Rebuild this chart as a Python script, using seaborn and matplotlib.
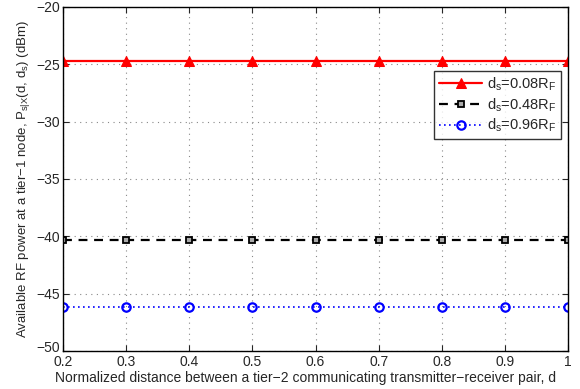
import matplotlib
matplotlib.use("Agg")
import matplotlib.pyplot as plt
import matplotlib.transforms as mtransforms
import seaborn as sns
import pandas as pd

# data
d = [0.2, 0.3, 0.4, 0.5, 0.6, 0.7, 0.8, 0.9, 1.0]
p_008 = [-24.7] * 9
p_048 = [-40.3] * 9
p_096 = [-46.2] * 9

sns.set_style("ticks")
plt.rcParams['font.family'] = ['Liberation Sans', 'DejaVu Sans']
plt.rcParams['mathtext.fontset'] = 'custom'
plt.rcParams['mathtext.rm'] = 'Liberation Sans'

fig = plt.figure(figsize=(5.8, 3.89), dpi=100)
ax = fig.add_axes([63/580, 1 - 351/389, (568-63)/580, (351-7)/389])

df = pd.DataFrame({'d': d, 'a': p_008, 'b': p_048, 'c': p_096})
sns.lineplot(data=df, x='d', y='a', ax=ax, color='red', lw=1.6, marker='^',
             markersize=6.5, markerfacecolor='red', markeredgecolor='red',
             label=r'd$_\mathregular{s}$=0.08R$_\mathregular{F}$')
sns.lineplot(data=df, x='d', y='b', ax=ax, color='black', lw=1.6, ls=(0, (4, 3)), marker='s',
             markersize=4.5, markerfacecolor='#aaaaaa', markeredgecolor='black', markeredgewidth=1.3,
             label=r'd$_\mathregular{s}$=0.48R$_\mathregular{F}$')
sns.lineplot(data=df, x='d', y='c', ax=ax, color='blue', lw=1.2, ls=(0, (1, 2)), marker='o',
             markersize=6, markerfacecolor='none', markeredgecolor='blue', markeredgewidth=1.6,
             label=r'd$_\mathregular{s}$=0.96R$_\mathregular{F}$')

ax.set_xlim(0.2, 1.0)
ax.set_ylim(-50, -20)
ax.set_xticks([0.2, 0.3, 0.4, 0.5, 0.6, 0.7, 0.8, 0.9, 1.0])
ax.set_xticklabels(['0.2', '0.3', '0.4', '0.5', '0.6', '0.7', '0.8', '0.9', '1'])
ax.set_yticks([-50, -45, -40, -35, -30, -25, -20])
ax.set_yticklabels(['\u221250', '\u221245', '\u221240', '\u221235', '\u221230', '\u221225', '\u221220'])
ax.grid(True, ls=(0, (1, 4)), color='#888888', lw=0.8)
ax.tick_params(direction='in', labelsize=10, top=True, right=True, length=4, pad=2)
ax.tick_params(axis='x', pad=3)
for s in ax.spines.values():
    s.set_linewidth(1.0)
    s.set_color('black')

# lift the bottom y label a little so it clears 0.2, as in the original
lab = ax.get_yticklabels()[0]
lab.set_transform(lab.get_transform() + mtransforms.ScaledTranslation(0, 5/100, fig.dpi_scale_trans))

ax.set_xlabel('')
ax.set_ylabel(r'Available RF power at a tier$-$1 node, P$_\mathregular{s|X}$(d, d$_\mathregular{s}$) (dBm)',
              fontsize=9.5, labelpad=3)
fig.text(55/580, 1 - 382/389,
         'Normalized distance between a tier\u22122 communicating transmitter\u2212receiver pair, d',
         fontsize=10, ha='left', va='baseline')

leg = ax.legend(loc='upper right', bbox_to_anchor=(1.0, 0.835), fontsize=10.5, frameon=True,
                fancybox=False, edgecolor='black', handlelength=3.0, borderpad=0.3,
                labelspacing=0.2, handletextpad=0.3)
leg.get_frame().set_linewidth(1.0)

fig.savefig('out.png', dpi=100)
